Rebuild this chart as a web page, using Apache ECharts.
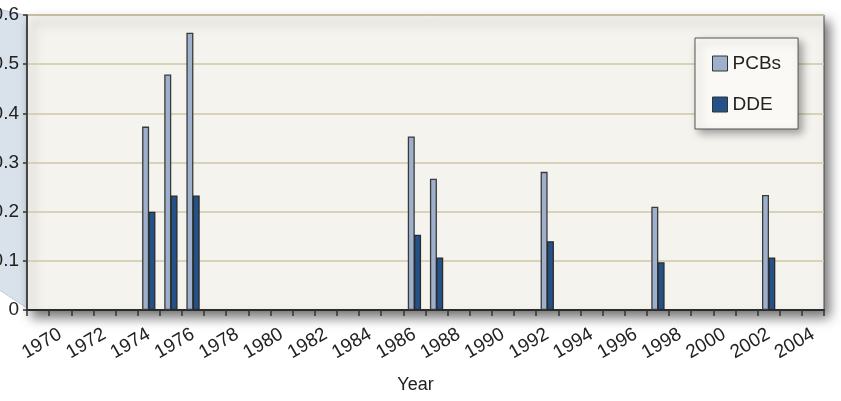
<!DOCTYPE html>
<html>
<head>
<meta charset="utf-8">
<script src="https://cdn.jsdelivr.net/npm/echarts@6/dist/echarts.min.js"></script>
<style>
  html, body { margin: 0; padding: 0; background: #ffffff; }
  #chart { width: 841px; height: 401px; }
</style>
</head>
<body>
<div id="chart"></div>
<script>
// Year categories along the x axis
const years = ['1969','1970','1971','1972','1973','1974','1975','1976','1977','1978',
  '1979','1980','1981','1982','1983','1984','1985','1986','1987','1988','1989','1990',
  '1991','1992','1993','1994','1995','1996','1997','1998','1999','2000','2001','2002',
  '2003','2004'];

// Sampling years and measured concentrations
const sampleYears = ['1974','1975','1976','1986','1987','1992','1997','2002'];
const pcbs = [0.373, 0.479, 0.564, 0.353, 0.267, 0.281, 0.210, 0.234];
const dde  = [0.200, 0.233, 0.233, 0.153, 0.107, 0.140, 0.097, 0.107];

const yTicks = { min: 0, max: 0.6, interval: 0.1 };

const pair = (vals) => sampleYears.map((y, i) => [y, vals[i]]);

const FONT = '"Liberation Sans", Arial, sans-serif';

const chart = echarts.init(document.getElementById('chart'), null, { renderer: 'canvas' });

chart.setOption({
  backgroundColor: '#ffffff',
  animation: false,
  textStyle: { fontFamily: FONT },
  graphic: [{
    type: 'polygon',
    z: -10,
    silent: true,
    shape: { points: [[-2, 9], [30, 16], [30, 310], [-2, 289]] },
    style: { fill: '#d9e1eb', stroke: '#c2ccd9', lineWidth: 1 }
  }],
  grid: {
    left: 27, right: 17, top: 15, bottom: 91,
    outerBoundsMode: 'none',
    containLabel: false,
    show: true,
    backgroundColor: '#f4f3ee',
    borderColor: '#4a4a4a',
    borderWidth: 1,
    shadowColor: 'rgba(0,0,0,0.55)',
    shadowBlur: 11,
    shadowOffsetX: 5,
    shadowOffsetY: 7
  },
  legend: {
    orient: 'vertical',
    left: 695, top: 38,
    padding: [16, 17, 15, 17],
    itemWidth: 15, itemHeight: 15, itemGap: 22,
    itemTextGap: 8,
    icon: 'rect',
    backgroundColor: '#faf9f5',
    borderColor: '#555555',
    borderWidth: 1,
    shadowColor: 'rgba(0,0,0,0.35)',
    shadowBlur: 8,
    shadowOffsetX: 4,
    shadowOffsetY: 4,
    itemStyle: { borderColor: '#333333', borderWidth: 1 },
    textStyle: { fontSize: 19, color: '#222222', fontFamily: FONT },
    data: ['PCBs', 'DDE']
  },
  xAxis: {
    type: 'category',
    data: years,
    boundaryGap: true,
    name: 'Year',
    nameLocation: 'middle',
    nameGap: 66,
    nameTextStyle: { fontSize: 18, color: '#222222', fontFamily: FONT, padding: [0, 20, 0, 0] },
    axisLine: { show: true, lineStyle: { color: '#2b2b2b', width: 2 } },
    axisTick: { show: true, interval: 0, length: 6, lineStyle: { color: '#333333', width: 1.5 } },
    axisLabel: {
      interval: (idx, val) => Number(val) % 2 === 0,
      rotate: 30,
      margin: 23,
      fontSize: 19,
      color: '#222222',
      fontFamily: FONT
    },
    splitLine: { show: false }
  },
  yAxis: {
    type: 'value',
    min: yTicks.min, max: yTicks.max, interval: yTicks.interval,
    axisLine: { show: true, lineStyle: { color: '#2b2b2b', width: 1.5 } },
    axisTick: { show: true, length: 4, lineStyle: { color: '#333333', width: 1.5 } },
    axisLabel: {
      margin: 8,
      fontSize: 19,
      color: '#222222',
      fontFamily: FONT,
      formatter: (v) => (v === 0 ? '0' : v.toFixed(1))
    },
    splitLine: { show: true, lineStyle: { color: '#cfc8a6', width: 1.5 } }
  },
  series: [
    {
      name: 'PCBs',
      type: 'bar',
      data: pair(pcbs),
      barWidth: 7,
      barGap: '-10%',
      itemStyle: { color: '#9fb0cd', borderColor: '#3a3a3a', borderWidth: 1.3 }
    },
    {
      name: 'DDE',
      type: 'bar',
      data: pair(dde),
      barWidth: 7,
      barGap: '-10%',
      itemStyle: { color: '#245288', borderColor: '#2a2a2a', borderWidth: 1.3 }
    }
  ]
});
</script>
</body>
</html>
